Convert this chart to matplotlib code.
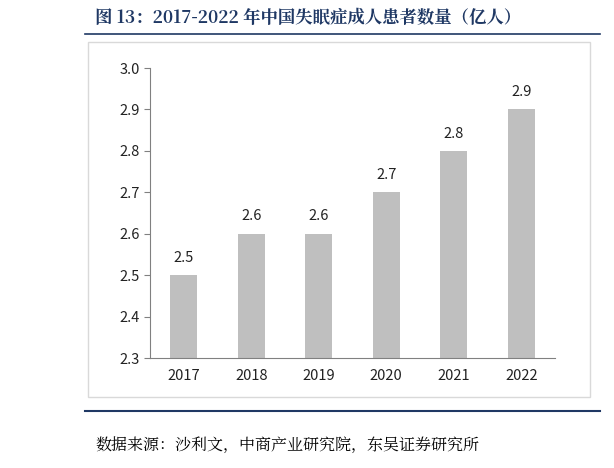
import matplotlib
matplotlib.use("Agg")
import matplotlib.pyplot as plt
from matplotlib.patches import Rectangle
from matplotlib.lines import Line2D

years = ["2017", "2018", "2019", "2020", "2021", "2022"]
values = [2.5, 2.6, 2.6, 2.7, 2.8, 2.9]
labels = ["2.5", "2.6", "2.6", "2.7", "2.8", "2.9"]

plt.rcParams['font.family'] = ['Noto Sans CJK SC', 'DejaVu Sans']
W, H = 614, 468
fig = plt.figure(figsize=(W/100, H/100), dpi=100)

def fx(x): return x / W
def fy(y): return 1 - y / H

serif = ['Noto Serif CJK SC', 'Noto Sans CJK SC', 'DejaVu Sans']
fig.text(fx(95), fy(18), "图 13：2017-2022 年中国失眠症成人患者数量（亿人）", fontsize=12.5,
         fontweight='bold', color='#1F3864', va='center', ha='left', family=serif)
fig.add_artist(Line2D([fx(85), fx(600)], [fy(34), fy(34)], color='#1F3864', lw=1.2))
fig.add_artist(Rectangle((fx(88), fy(397)), fx(590)-fx(88), fy(42)-fy(397),
                         fill=False, edgecolor='#D9D9D9', lw=1))
fig.add_artist(Line2D([fx(85), fx(600)], [fy(411), fy(411)], color='#1F3864', lw=1.5))
fig.text(fx(95), fy(445), "数据来源：沙利文，中商产业研究院，东吴证券研究所", fontsize=11.5,
         color='black', va='center', ha='left', family=serif)

ax = fig.add_axes([fx(150), fy(358), fx(555)-fx(150), fy(68)-fy(358)])
x = range(len(years))
ax.bar(x, [v - 2.3 for v in values], bottom=2.3, width=0.4, color='#BFBFBF')
for i, (v, l) in enumerate(zip(values, labels)):
    ax.text(i, v + 0.025, l, ha='center', va='bottom', fontsize=10.5, color='#222222')
ax.set_ylim(2.3, 3.0)
ax.set_xlim(-0.5, 5.5)
ax.set_yticks([2.3, 2.4, 2.5, 2.6, 2.7, 2.8, 2.9, 3.0])
ax.set_yticklabels(["2.3", "2.4", "2.5", "2.6", "2.7", "2.8", "2.9", "3.0"])
ax.set_xticks(list(x))
ax.set_xticklabels(years)
for s in ['top', 'right']:
    ax.spines[s].set_visible(False)
ax.spines['left'].set_color('#808080')
ax.spines['bottom'].set_color('#808080')
ax.tick_params(axis='y', length=4, color='#808080', labelsize=10.5, labelcolor='#222222', direction='out')
ax.tick_params(axis='x', length=0, labelsize=10.5, labelcolor='#222222', pad=8)
fig.savefig("out.png", dpi=100)
